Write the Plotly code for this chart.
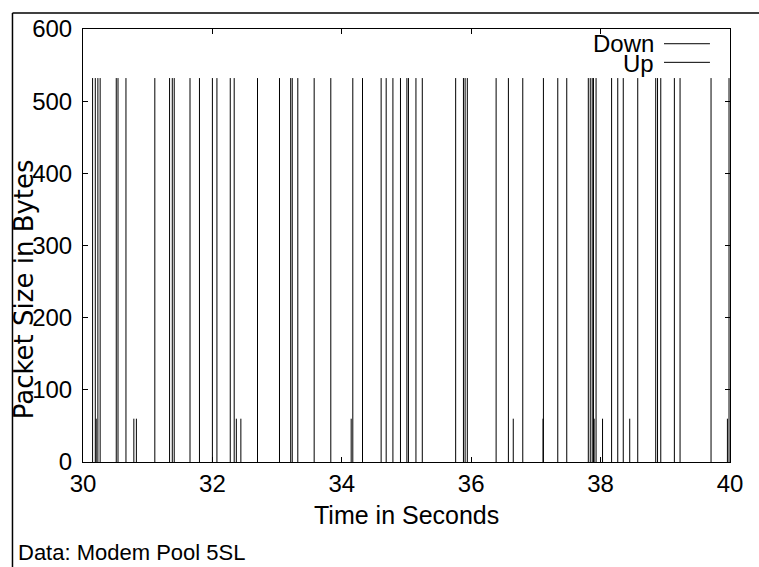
import plotly.graph_objects as go

# Packet arrival times (seconds) and sizes (bytes) for each direction
down_times = [30.148, 30.19, 30.23, 30.265, 30.514, 30.541, 30.664, 31.11, 31.338,
              31.38, 31.41, 31.654, 31.80, 32.00, 32.07, 32.276, 32.337, 32.697,
              33.037, 33.21, 33.234, 33.32, 33.573, 33.83, 34.17, 34.32, 34.608,
              34.686, 34.79, 34.907, 35.006, 35.03, 35.146, 35.244, 35.76, 35.88,
              35.906, 35.94, 36.385, 36.575, 36.797, 37.116, 37.338, 37.477, 37.81,
              37.84, 37.87, 37.89, 37.93, 38.17, 38.265, 38.35, 38.574, 38.852,
              38.88, 38.93, 39.14, 39.228, 39.707, 39.985]
down_bytes = 532

up_times = [30.204, 30.786, 30.825, 32.37, 32.44, 34.145, 36.65, 37.11, 37.90,
            38.03, 38.45, 39.96]
up_bytes = 60

x_ticks = [30, 32, 34, 36, 38, 40]
y_ticks = [0, 100, 200, 300, 400, 500, 600]

FONT = "Liberation Sans"


def impulses(times, size):
    xs, ys = [], []
    for t in times:
        xs += [t, t, None]
        ys += [0, size, None]
    return xs, ys


fig = go.Figure()
for name, times, size in [("Down", down_times, down_bytes), ("Up", up_times, up_bytes)]:
    xs, ys = impulses(times, size)
    fig.add_trace(go.Scatter(x=xs, y=ys, mode="lines", name=name,
                             line=dict(color="black", width=1),
                             showlegend=False, hoverinfo="skip"))

axis_common = dict(showgrid=False, zeroline=False, showline=True, linecolor="black",
                   linewidth=1, mirror="ticks", ticks="inside", ticklen=5,
                   tickcolor="black", tickwidth=1,
                   tickfont=dict(family=FONT, size=24, color="black"))

fig.update_xaxes(range=[30, 40], tickvals=x_ticks, ticktext=[str(v) for v in x_ticks],
                 ticklabelstandoff=0, **axis_common)
fig.update_yaxes(range=[0, 600], tickvals=y_ticks, ticktext=[str(v) for v in y_ticks],
                 ticklabelstandoff=5, **axis_common)

annotations = [
    dict(text="Time in Seconds", x=0.5, y=-0.122, xref="paper", yref="paper",
         xanchor="center", yanchor="middle", showarrow=False,
         font=dict(family=FONT, size=25, color="black")),
    dict(text="Packet Size in Bytes", x=-0.092, y=0.40, xref="paper", yref="paper",
         xanchor="center", yanchor="middle", textangle=-90, showarrow=False,
         font=dict(family="DejaVu Sans", size=26, color="black")),
    dict(text="Data: Modem Pool 5SL", x=-0.103, y=-0.208, xref="paper", yref="paper",
         xanchor="left", yanchor="middle", showarrow=False,
         font=dict(family=FONT, size=22, color="black")),
    dict(text="Down", x=0.884, y=0.966, xref="paper", yref="paper",
         xanchor="right", yanchor="middle", showarrow=False, borderpad=0,
         font=dict(family=FONT, size=24, color="black")),
    dict(text="Up", x=0.884, y=0.921, xref="paper", yref="paper",
         xanchor="right", yanchor="middle", showarrow=False, borderpad=0,
         font=dict(family=FONT, size=24, color="black")),
]

shapes = [
    # key samples
    dict(type="line", xref="paper", yref="paper", x0=0.898, x1=0.969, y0=0.966, y1=0.966,
         line=dict(color="black", width=1)),
    dict(type="line", xref="paper", yref="paper", x0=0.898, x1=0.969, y0=0.923, y1=0.923,
         line=dict(color="black", width=1)),
    # outer frame
    dict(type="line", xref="paper", yref="paper", x0=-0.109, x1=1.1, y0=1.037, y1=1.037,
         line=dict(color="black", width=1.5)),
    dict(type="line", xref="paper", yref="paper", x0=-0.109, x1=-0.109, y0=1.037, y1=-0.3,
         line=dict(color="black", width=1.5)),
]

fig.update_layout(width=759, height=567, margin=dict(l=83, r=29, t=29, b=105),
                  paper_bgcolor="white", plot_bgcolor="white",
                  annotations=annotations, shapes=shapes, showlegend=False)

fig.write_html("out.html")
